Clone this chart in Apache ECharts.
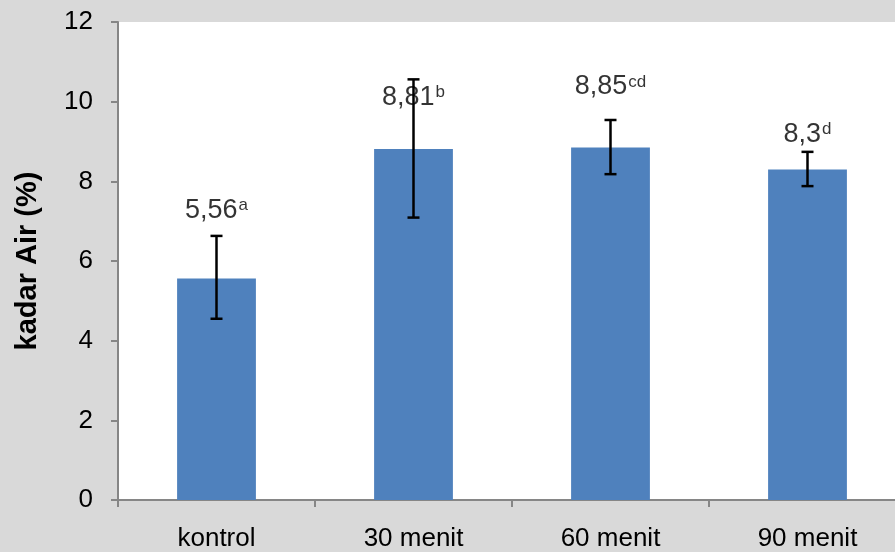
<!DOCTYPE html>
<html>
<head>
<meta charset="utf-8">
<script src="https://cdn.jsdelivr.net/npm/echarts@6/dist/echarts.min.js"></script>
<style>
html,body{margin:0;padding:0;background:#d9d9d9;}
#c{width:895px;height:552px;}
</style>
</head>
<body>
<div id="c"></div>
<script>
const categories = ['kontrol', '30 menit', '60 menit', '90 menit'];
const values = [5.56, 8.81, 8.85, 8.3];
const errLow = [4.55, 7.09, 8.18, 7.88];
const errHigh = [6.63, 10.56, 9.54, 8.74];
const labelText = ['5,56', '8,81', '8,85', '8,3'];
const labelSup = ['a', 'b', 'cd', 'd'];
const labelY = [7.27, 10.1, 10.37, 9.18];
const yTicks = [0, 2, 4, 6, 8, 10, 12];

const chart = echarts.init(document.getElementById('c'), null, {renderer: 'canvas'});
const FONT = '"Liberation Sans", Arial, sans-serif';

chart.setOption({
  backgroundColor: '#d9d9d9',
  animation: false,
  grid: {left: 118, right: -11, top: 22, bottom: 52, show: true, backgroundColor: '#ffffff', borderWidth: 0,
         containLabel: false, outerBoundsMode: 'none'},
  xAxis: {
    type: 'category',
    data: categories,
    axisLine: {lineStyle: {color: '#868686', width: 2}},
    axisTick: {show: true, alignWithLabel: false, length: 7, lineStyle: {color: '#868686', width: 2}},
    axisLabel: {color: '#000', fontFamily: FONT, fontSize: 26, margin: 26}
  },
  yAxis: {
    type: 'value',
    min: yTicks[0],
    max: yTicks[yTicks.length - 1],
    interval: 2,
    name: 'kadar Air (%)',
    nameLocation: 'middle',
    nameGap: 76,
    nameRotate: 90,
    nameTextStyle: {color: '#000', fontFamily: FONT, fontSize: 29, fontWeight: 'bold'},
    axisLine: {show: true, lineStyle: {color: '#868686', width: 2}},
    axisTick: {show: true, length: 7, lineStyle: {color: '#868686', width: 2}},
    splitLine: {show: false},
    axisLabel: {color: '#000', fontFamily: FONT, fontSize: 26, margin: 25}
  },
  series: [
    {
      type: 'bar',
      data: values,
      barWidth: '40%',
      itemStyle: {color: '#4f81bd'},
      z: 2
    },
    {
      type: 'custom',
      z: 5,
      data: categories.map((c, i) => [i, errLow[i], errHigh[i]]),
      renderItem: function (params, api) {
        const lo = api.coord([api.value(0), api.value(1)]);
        const hi = api.coord([api.value(0), api.value(2)]);
        const hw = 6;
        const st = {stroke: '#000', lineWidth: 2.5};
        return {
          type: 'group',
          children: [
            {type: 'line', shape: {x1: lo[0], y1: lo[1], x2: hi[0], y2: hi[1]}, style: st},
            {type: 'line', shape: {x1: lo[0] - hw, y1: lo[1], x2: lo[0] + hw, y2: lo[1]}, style: st},
            {type: 'line', shape: {x1: hi[0] - hw, y1: hi[1], x2: hi[0] + hw, y2: hi[1]}, style: st}
          ]
        };
      }
    },
    {
      type: 'scatter',
      symbolSize: 0,
      z: 6,
      data: labelY.map((v, i) => [i, v]),
      label: {
        show: true,
        position: 'inside',
        color: '#000',
        formatter: function (p) {
          return '{v|' + labelText[p.dataIndex] + '}{s|' + labelSup[p.dataIndex] + '}';
        },
        rich: {
          v: {fontFamily: FONT, fontSize: 27, color: '#000'},
          s: {fontFamily: FONT, fontSize: 17, color: '#000', verticalAlign: 'top', padding: [0, 0, 0, 1]}
        }
      }
    }
  ]
});
</script>
</body>
</html>
